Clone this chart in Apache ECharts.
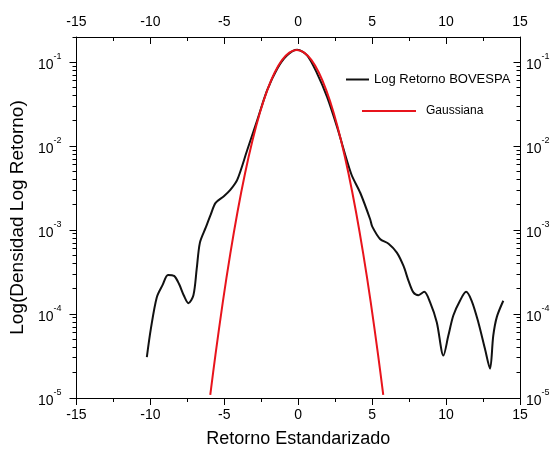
<!DOCTYPE html>
<html><head><meta charset="utf-8">
<script src="https://cdn.jsdelivr.net/npm/echarts@6/dist/echarts.min.js"></script>
<style>html,body{margin:0;padding:0;background:#fff}#c{width:553px;height:453px}</style>
</head><body><div id="c"></div>
<script>
const FONT = 'Arial, "Liberation Sans", sans-serif';
const xTicks = [-15, -10, -5, 0, 5, 10, 15];
const yExponents = [-5, -4, -3, -2, -1];
const yMin = 1e-5, yMax = 0.2;

const seriesNames = ['Log Retorno BOVESPA', 'Gaussiana'];

const bovespaX = [-10.24, -9.97, -9.57, -9.18, -8.81, -8.40, -8.06, -7.73, -7.43, -7.09, -6.87, -6.65, -6.26, -5.92, -5.59, -5.03, -4.58, -4.12, -3.45, -2.77, -2.10, -1.42, -0.75, -0.07, 0.60, 1.28, 1.95, 2.62, 3.58, 4.20, 4.87, 5.00, 5.55, 6.11, 6.67, 7.12, 7.46, 7.79, 8.13, 8.52, 8.92, 9.37, 9.82, 10.15, 10.49, 10.94, 11.35, 11.73, 12.18, 12.63, 12.97, 13.19, 13.43, 13.87];
const bovespaY = [3.07e-5, 6.65e-5, 1.58e-4, 2.21e-4, 2.93e-4, 2.85e-4, 2.28e-4, 1.65e-4, 1.35e-4, 1.68e-4, 3.42e-4, 7.1e-4, 1.07e-3, 1.53e-3, 2.11e-3, 2.53e-3, 3.03e-3, 3.99e-3, 9.0e-3, 0.0205, 0.0465, 0.0839, 0.121, 0.141, 0.121, 0.0733, 0.0387, 0.0171, 4.7e-3, 2.77e-3, 1.34e-3, 1.11e-3, 7.8e-4, 6.9e-4, 5.4e-4, 3.74e-4, 2.49e-4, 1.81e-4, 1.68e-4, 1.84e-4, 1.38e-4, 8.0e-5, 3.2e-5, 5.5e-5, 9.6e-5, 1.44e-4, 1.84e-4, 1.44e-4, 8.0e-5, 3.85e-5, 2.24e-5, 5.5e-5, 9.2e-5, 1.44e-4];

const gaussX = [-5.95, -5.6, -5.1, -4.6, -4.1, -3.6, -3.1, -2.6, -2.1, -1.6, -1.1, -0.6, -0.1, 0.4, 0.9, 1.4, 1.9, 2.4, 2.9, 3.4, 3.9, 4.4, 4.9, 5.4, 5.75];
const gaussY = [1.09e-5, 3.27e-5, 1.40e-4, 5.19e-4, 1.68e-3, 4.73e-3, 0.0116, 0.0248, 0.0462, 0.0750, 0.1059, 0.1303, 0.1396, 0.1303, 0.1059, 0.0750, 0.0462, 0.0248, 0.0116, 4.73e-3, 1.68e-3, 5.19e-4, 1.40e-4, 3.27e-5, 1.09e-5];

const pair = (xs, ys) => xs.map((x, i) => [x, ys[i]]);

const chart = echarts.init(document.getElementById('c'), null, {renderer: 'canvas'});
const xMin = xTicks[0], xMax = xTicks[xTicks.length - 1];
const xInterval = xTicks[1] - xTicks[0];

function yLabel(v) {
  const e = Math.log10(v), r = Math.round(e);
  if (Math.abs(e - r) > 1e-6 || yExponents.indexOf(r) < 0) return '';
  return '{b|10}{s|' + r + '}';
}
const rich = {
  b: {fontSize: 14, fontFamily: FONT, color: '#000', lineHeight: 20, verticalAlign: 'bottom'},
  s: {fontSize: 9, fontFamily: FONT, color: '#000', lineHeight: 10, verticalAlign: 'top'}
};
const axisLine = {show: true, onZero: false, lineStyle: {color: '#000', width: 1}};
const xLabel = {fontSize: 14, fontFamily: FONT, color: '#000'};

chart.setOption({
  animation: false,
  backgroundColor: '#fff',
  grid: {left: 75, right: 33, top: 37, bottom: 54, containLabel: false},
  xAxis: [{
    type: 'value', position: 'bottom', min: xMin, max: xMax, interval: xInterval,
    axisLine: axisLine, splitLine: {show: false},
    axisTick: {show: true, inside: false, length: 7, lineStyle: {color: '#000'}},
    minorTick: {show: true, splitNumber: 2, length: 4, lineStyle: {color: '#000'}},
    axisLabel: Object.assign({margin: 10}, xLabel),
    name: 'Retorno Estandarizado', nameLocation: 'middle', nameGap: 32,
    nameTextStyle: {fontSize: 18, fontFamily: FONT, color: '#000'}
  }, {
    type: 'value', position: 'top', min: xMin, max: xMax, interval: xInterval,
    axisLine: axisLine, splitLine: {show: false},
    axisTick: {show: true, inside: true, length: 7, lineStyle: {color: '#000'}},
    minorTick: {show: true, splitNumber: 2, length: 4, lineStyle: {color: '#000'}},
    axisLabel: Object.assign({margin: 8}, xLabel)
  }],
  yAxis: [{
    type: 'log', position: 'left', min: yMin, max: yMax, logBase: 10,
    axisLine: axisLine, splitLine: {show: false}, axisTick: {show: false},
    axisLabel: {margin: 15, formatter: yLabel, rich: rich, showMaxLabel: false},
    name: 'Log(Densidad Log Retorno)', nameLocation: 'middle', nameGap: 45,
    nameTextStyle: {fontSize: 19, fontFamily: FONT, color: '#000'}
  }, {
    type: 'log', position: 'right', min: yMin, max: yMax, logBase: 10,
    axisLine: axisLine, splitLine: {show: false}, axisTick: {show: false},
    axisLabel: {margin: 6, formatter: yLabel, rich: rich, showMaxLabel: false}
  }],
  legend: [{
    data: [seriesNames[0]], selectedMode: false, left: 346, top: 73, icon: 'rect',
    itemWidth: 23, itemHeight: 2, padding: 0,
    textStyle: {fontSize: 13, fontFamily: FONT, color: '#000'}
  }, {
    data: [seriesNames[1]], selectedMode: false, left: 362, top: 105, icon: 'rect',
    itemWidth: 54, itemHeight: 2, padding: 0,
    textStyle: {fontSize: 12, fontFamily: FONT, color: '#000', padding: [0, 0, 0, 5]}
  }],
  series: [{
    name: seriesNames[0], type: 'line', xAxisIndex: 0, yAxisIndex: 0,
    data: pair(bovespaX, bovespaY), symbol: 'none', showSymbol: false, smooth: 0.3,
    lineStyle: {color: '#111', width: 2}, itemStyle: {color: '#111'}
  }, {
    name: seriesNames[1], type: 'line', xAxisIndex: 0, yAxisIndex: 0,
    data: pair(gaussX, gaussY), symbol: 'none', showSymbol: false, smooth: 0.3,
    lineStyle: {color: '#e8141c', width: 2}, itemStyle: {color: '#e8141c'}
  }]
});

// log-axis major and minor ticks (2..9 per decade) positioned through the axis scale
function drawLogTicks() {
  const xl = chart.convertToPixel({xAxisIndex: 0}, xMin);
  const xr = chart.convertToPixel({xAxisIndex: 0}, xMax);
  const els = [];
  yExponents.forEach(function (e) {
    for (let m = 1; m <= 9; m++) {
      const v = m * Math.pow(10, e);
      if (v > yMax + 1e-12) break;
      let y = chart.convertToPixel({yAxisIndex: 0}, v);
      y = Math.round(y - 0.5) + 0.5;
      const len = m === 1 ? 7 : 4;
      els.push({type: 'line', silent: true, z: 10,
        shape: {x1: Math.round(xl) + 0.5 - len, y1: y, x2: Math.round(xl) + 0.5, y2: y},
        style: {stroke: '#000', lineWidth: 1}});
      els.push({type: 'line', silent: true, z: 10,
        shape: {x1: Math.round(xr) + 0.5 - len, y1: y, x2: Math.round(xr) + 0.5, y2: y},
        style: {stroke: '#000', lineWidth: 1}});
    }
  });
  chart.setOption({graphic: els});
}
drawLogTicks();
</script>
</body></html>
